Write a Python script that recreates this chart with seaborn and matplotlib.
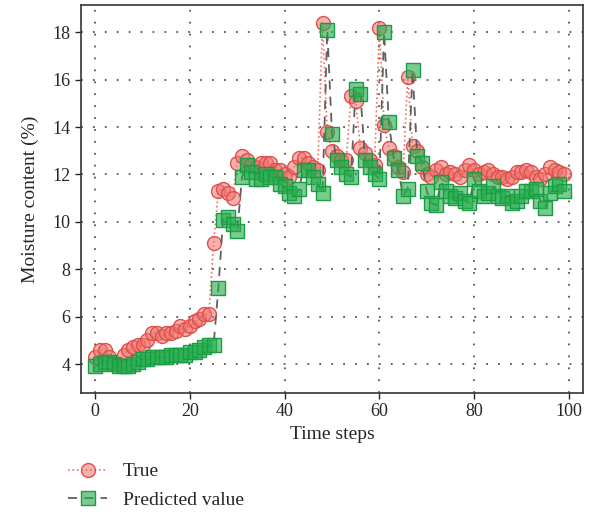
import numpy as np
import pandas as pd
import seaborn as sns
import matplotlib.pyplot as plt

# values (time steps 0..99)
steps = list(range(100))
true_vals = [4.3, 4.6, 4.6, 4.3, 4.0, 4.0, 4.4, 4.6, 4.7, 4.8,
             4.8, 5.0, 5.3, 5.3, 5.2, 5.3, 5.3, 5.4, 5.6, 5.5,
             5.6, 5.8, 5.9, 6.1, 6.1, 9.1, 11.3, 11.4, 11.2, 11.0,
             12.5, 12.8, 12.6, 12.4, 12.3, 12.5, 12.5, 12.5, 12.2, 12.2,
             12.0, 11.9, 12.3, 12.7, 12.7, 12.5, 12.3, 12.2, 18.4, 13.8,
             13.0, 12.8, 12.6, 12.6, 15.3, 15.1, 13.1, 12.9, 12.6, 12.4,
             18.2, 14.1, 13.1, 12.8, 12.3, 12.1, 16.1, 13.2, 13.0, 12.3,
             12.0, 11.9, 12.2, 12.3, 12.0, 12.1, 12.0, 11.9, 12.2, 12.4,
             12.2, 12.0, 12.1, 12.2, 12.0, 11.9, 11.9, 11.8, 11.9, 12.1,
             12.1, 12.2, 12.1, 11.9, 11.8, 12.0, 12.3, 12.2, 12.1, 12.0]
pred_vals = [3.9, 4.0, 4.1, 4.1, 4.0, 3.9, 3.9, 3.9, 4.0, 4.1,
             4.2, 4.2, 4.3, 4.3, 4.3, 4.3, 4.4, 4.4, 4.4, 4.4,
             4.5, 4.5, 4.6, 4.7, 4.8, 4.8, 7.2, 10.1, 10.2, 9.9,
             9.6, 11.9, 12.4, 12.1, 11.8, 11.8, 12.0, 11.9, 11.9, 11.6,
             11.5, 11.2, 11.1, 11.4, 12.2, 12.2, 11.9, 11.6, 11.2, 18.1,
             13.7, 12.6, 12.3, 12.0, 11.9, 15.6, 15.4, 12.6, 12.3, 12.0,
             11.8, 18.0, 14.2, 12.7, 12.2, 11.1, 11.4, 16.4, 12.8, 12.5,
             11.3, 10.8, 10.7, 11.7, 11.3, 11.1, 11.0, 11.2, 10.9, 10.8,
             11.8, 11.3, 11.1, 11.2, 11.5, 11.1, 11.0, 11.1, 10.8, 10.9,
             11.1, 11.3, 11.3, 11.4, 10.9, 10.6, 11.2, 11.5, 11.6, 11.3]

df = pd.DataFrame({"step": steps, "true": true_vals, "pred": pred_vals})

sns.set_style("white")
plt.rcParams["font.family"] = ["Liberation Serif", "DejaVu Serif"]

fig = plt.figure(figsize=(5.92, 5.13), dpi=100)
ax = fig.add_axes([81 / 592, 1 - 393 / 513, 502 / 592, 388 / 513])

sns.lineplot(data=df, x="step", y="true", ax=ax, color="#f07060", linestyle=":",
             linewidth=1.2, marker="o", markersize=10,
             markerfacecolor=(0.94, 0.45, 0.43, 0.55), markeredgecolor="#e0504a",
             markeredgewidth=1.0, label="True")
sns.lineplot(data=df, x="step", y="pred", ax=ax, color="#606060", linestyle=(0, (5, 4)),
             linewidth=1.3, marker="s", markersize=10,
             markerfacecolor=(0.15, 0.68, 0.3, 0.62), markeredgecolor="#1a9c45",
             markeredgewidth=1.0, label="Predicted value")

ax.set_xlim(-3, 103)
ax.set_ylim(2.78, 19.15)
ax.set_xticks(range(0, 101, 20))
ax.set_yticks(range(4, 19, 2))
ax.grid(True, color="#555555", linestyle=(0, (1, 5.6)), linewidth=1.3)
for s in ax.spines.values():
    s.set_color("#333333")
    s.set_linewidth(1.2)
ax.tick_params(axis="both", direction="out", length=4, width=1.0, labelsize=13, bottom=True, left=True)
ax.set_xlabel("Time steps", fontsize=14)
ax.set_ylabel("Moisture content (%)", fontsize=14, labelpad=10)

ax.legend(loc="upper left", bbox_to_anchor=(-0.06, -0.135), frameon=False, fontsize=14,
          handlelength=2.0, labelspacing=0.55)

plt.savefig("out.png", dpi=100)
